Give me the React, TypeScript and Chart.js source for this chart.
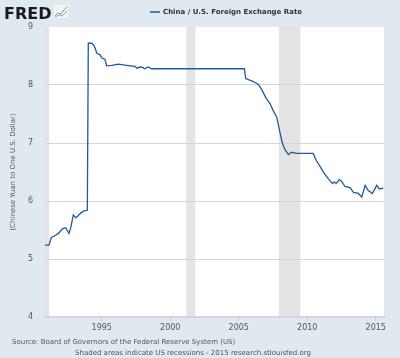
import React, { useEffect, useRef } from "react";
import { Chart, registerables } from "chart.js";

Chart.register(...registerables);

// Decimal years and CNY per USD
const years: number[] = [
  1990.86, 1991.15, 1991.32, 1991.64, 1991.88, 1992.12, 1992.37, 1992.61, 1992.74, 1992.93,
  1993.1, 1993.29, 1993.51, 1993.71, 1993.95, 1994.02, 1994.27, 1994.4, 1994.51, 1994.64,
  1994.88, 1995.0, 1995.24, 1995.36, 1995.73, 1996.21, 1996.82, 1997.43, 1997.58, 1997.8,
  1998.01, 1998.16, 1998.38, 1998.65, 2005.41, 2005.51, 2006.07, 2006.43, 2006.68, 2007.0,
  2007.28, 2007.53, 2007.77, 2008.01, 2008.18, 2008.37, 2008.62, 2008.85, 2009.23, 2010.44,
  2010.56, 2010.68, 2010.92, 2011.2, 2011.52, 2011.84, 2011.97, 2012.1, 2012.34, 2012.5,
  2012.76, 2013.12, 2013.37, 2013.73, 2013.98, 2014.22, 2014.46, 2014.75, 2015.07, 2015.24,
  2015.55,
];
const rates: number[] = [
  5.24, 5.24, 5.37, 5.41, 5.45, 5.52, 5.54, 5.44, 5.54, 5.76,
  5.71, 5.75, 5.8, 5.83, 5.84, 8.72, 8.72, 8.69, 8.64, 8.55,
  8.52, 8.47, 8.44, 8.33, 8.34, 8.36, 8.34, 8.32, 8.29, 8.31,
  8.3, 8.28, 8.31, 8.28, 8.28, 8.11, 8.06, 8.01, 7.92, 7.77,
  7.68, 7.55, 7.45, 7.18, 7.0, 6.89, 6.8, 6.84, 6.82, 6.82,
  6.75, 6.69, 6.6, 6.49, 6.39, 6.3, 6.33, 6.3, 6.37, 6.34,
  6.25, 6.23, 6.15, 6.13, 6.07, 6.27, 6.18, 6.13, 6.27, 6.21,
  6.22,
];
const recessionStarts: number[] = [1990.5, 2001.17, 2007.92];
const recessionEnds: number[] = [1991.17, 2001.83, 2009.5];
const xTickYears: number[] = [1995, 2000, 2005, 2010, 2015];
const yTicks: number[] = [4, 5, 6, 7, 8, 9];

const seriesLabel = "China / U.S. Foreign Exchange Rate";
const yTitle = "(Chinese Yuan to One U.S. Dollar)";
const sourceText = "Source: Board of Governors of the Federal Reserve System (US)";
const noteText = "Shaded areas indicate US recessions - 2015 research.stlouisfed.org";

const LINE_COLOR = "#1f5a9e";
const BG = "#e1e9f0";
const FONT = "'DejaVu Sans', Verdana, sans-serif";

const decorPlugin = {
  id: "fredDecor",
  beforeDraw(chart: any) {
    const { ctx, chartArea, scales } = chart;
    ctx.save();
    ctx.fillStyle = BG;
    ctx.fillRect(0, 0, chart.width, chart.height);
    ctx.fillStyle = "#ffffff";
    ctx.fillRect(chartArea.left, chartArea.top, chartArea.right - chartArea.left, chartArea.bottom - chartArea.top);
    ctx.beginPath();
    ctx.rect(chartArea.left, chartArea.top, chartArea.right - chartArea.left, chartArea.bottom - chartArea.top);
    ctx.clip();
    ctx.fillStyle = "#e4e4e4";
    for (let i = 0; i < recessionStarts.length; i++) {
      const x0 = scales.x.getPixelForValue(recessionStarts[i]);
      const x1 = scales.x.getPixelForValue(recessionEnds[i]);
      ctx.fillRect(x0, chartArea.top, x1 - x0, chartArea.bottom - chartArea.top);
    }
    ctx.restore();
  },
  afterDraw(chart: any) {
    const { ctx, chartArea } = chart;
    ctx.save();
    // FRED logo text
    ctx.fillStyle = "#1a1a1a";
    ctx.font = `bold 16px ${FONT}`;
    ctx.textBaseline = "alphabetic";
    ctx.textAlign = "left";
    ctx.fillText("FRED", 4, 19);
    // small icon
    ctx.fillStyle = "#f2f4f6";
    ctx.fillRect(54, 5, 14, 13);
    ctx.strokeStyle = "#7fb069";
    ctx.lineWidth = 1;
    ctx.beginPath();
    ctx.moveTo(55, 16);
    ctx.lineTo(58, 13);
    ctx.lineTo(61, 14);
    ctx.lineTo(64, 10);
    ctx.lineTo(67, 7);
    ctx.stroke();
    ctx.strokeStyle = "#7da7d9";
    ctx.beginPath();
    ctx.moveTo(55, 17);
    ctx.lineTo(59, 15);
    ctx.lineTo(62, 16);
    ctx.lineTo(67, 11);
    ctx.stroke();

    // legend
    ctx.strokeStyle = LINE_COLOR;
    ctx.lineWidth = 1.5;
    ctx.beginPath();
    ctx.moveTo(150, 12);
    ctx.lineTo(160, 12);
    ctx.stroke();
    ctx.fillStyle = "#333333";
    ctx.font = `bold 7px ${FONT}`;
    ctx.textBaseline = "middle";
    ctx.fillText(seriesLabel, 163, 12);

    // y title
    ctx.save();
    ctx.translate(13, (chartArea.top + chartArea.bottom) / 2);
    ctx.rotate(-Math.PI / 2);
    ctx.textAlign = "center";
    ctx.fillStyle = "#555555";
    ctx.font = `7px ${FONT}`;
    ctx.fillText(yTitle, 0, 0);
    ctx.restore();

    // footer
    ctx.fillStyle = "#555555";
    ctx.font = `7px ${FONT}`;
    ctx.textAlign = "left";
    ctx.fillText(sourceText, 12, 342);
    ctx.textAlign = "center";
    ctx.fillText(noteText, 193, 353);
    ctx.restore();
  },
};

export default function App() {
  const ref = useRef<HTMLCanvasElement | null>(null);
  useEffect(() => {
    if (!ref.current) return;
    const points = years.map((x, i) => ({ x, y: rates[i] }));
    const chart = new Chart(ref.current, {
      type: "line",
      data: {
        datasets: [
          {
            label: seriesLabel,
            data: points,
            borderColor: LINE_COLOR,
            borderWidth: 1.3,
            pointRadius: 0,
            tension: 0,
            fill: false,
          },
        ],
      },
      options: {
        animation: false,
        responsive: false,
        maintainAspectRatio: false,
        layout: { padding: { left: 0, right: 16, top: 27, bottom: 0 } },
        plugins: {
          legend: { display: false },
          tooltip: { enabled: false },
          title: { display: false },
        },
        scales: {
          x: {
            type: "linear",
            min: 1990.86,
            max: 2015.6,
            afterBuildTicks: (scale: any) => {
              scale.ticks = xTickYears.map((v) => ({ value: v }));
            },
            afterFit: (scale: any) => {
              scale.height = 41;
            },
            ticks: {
              color: "#555555",
              font: { family: FONT, size: 8 },
              padding: 2,
              maxRotation: 0,
              autoSkip: false,
              callback: (v: any) => String(v),
            },
            grid: {
              drawOnChartArea: false,
              drawTicks: true,
              tickLength: 4,
              color: "#c5cfd9",
            },
            border: { display: true, color: "#cfd8e2", width: 2 },
          },
          y: {
            type: "linear",
            min: 4,
            max: 9,
            afterBuildTicks: (scale: any) => {
              scale.ticks = yTicks.map((v) => ({ value: v }));
            },
            afterFit: (scale: any) => {
              scale.width = 45;
            },
            ticks: {
              color: "#555555",
              font: { family: FONT, size: 8 },
              padding: 12,
              callback: (v: any) => String(v),
            },
            grid: {
              drawTicks: false,
              color: (ctx: any) =>
                ctx.tick && (ctx.tick.value === 9 || ctx.tick.value === 4) ? "rgba(0,0,0,0)" : "#d6d6d6",
              lineWidth: 1,
            },
            border: { display: false },
          },
        },
      },
      plugins: [decorPlugin],
    });
    return () => chart.destroy();
  }, []);
  return (
    <div style={{ position: "fixed", left: 0, top: 0, width: 400, height: 358 }}>
      <canvas ref={ref} width={400} height={358} style={{ width: 400, height: 358 }} />
    </div>
  );
}
